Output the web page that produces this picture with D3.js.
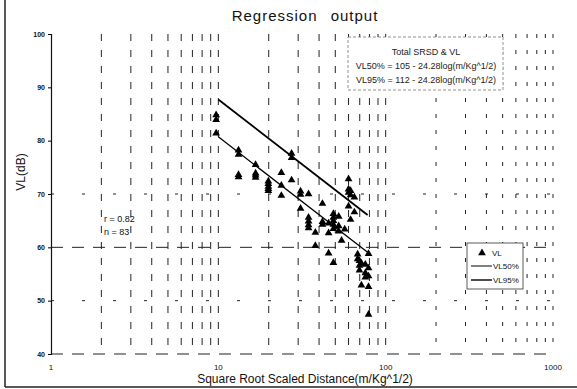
<!DOCTYPE html>
<html>
<head>
<meta charset="utf-8">
<script src="https://cdn.jsdelivr.net/npm/d3@7"></script>
<style>
  body { margin: 0; background: #fff; }
  svg { font-family: 'Liberation Sans', Arial, sans-serif; }
</style>
</head>
<body>
<svg id="chart" width="577" height="389"></svg>
<script>
// distance (m/Kg^1/2) and VL (dB)
const distances = [
  9.7, 9.7, 9.7,
  13.2, 13.2, 13.2, 13.2,
  16.7, 16.7, 16.7, 16.7,
  19.9, 19.9, 19.9, 19.9, 19.9,
  23.8, 23.8, 23.8,
  27.4, 27.4, 27.4,
  31, 31, 31,
  34.6, 34.6, 34.6, 34.6, 34.6,
  38, 38,
  41.9, 41.9, 41.9,
  45.6, 45.6, 45.6,
  48.7, 48.7, 48.7, 48.7, 48.7, 48.7,
  52.4, 52.4, 52.4,
  54.5, 56.9,
  60, 60, 60, 60,
  61.7, 61.7, 61.7,
  65, 65,
  68, 68,
  69.7, 69.7, 69.7,
  71.6, 71.6,
  75.6, 75.6, 75.6,
  79, 79, 79, 79, 79
];
const vlValues = [
  84.8, 83.9, 81.4,
  78.2, 77.4, 73.6, 73.2,
  75.5, 73.9, 73.5, 73.1,
  72.4, 71.9, 71.4, 71.0, 70.6,
  74.0, 71.6, 69.7,
  77.6, 76.8, 72.6,
  70.5, 69.9, 67.3,
  70.0, 65.6, 64.9, 64.2, 63.6,
  62.8, 60.3,
  68.2, 64.8, 64.3,
  64.5, 62.7, 58.9,
  66.3, 65.6, 65.0, 64.3, 63.5, 57.1,
  65.8, 64.0, 63.0,
  61.3, 63.4,
  72.8, 70.9, 70.3, 67.7,
  70.6, 69.8, 65.2,
  69.4, 66.6,
  58.7, 57.8,
  57.5, 56.6, 55.7,
  57.0, 52.9,
  56.8, 55.2, 54.4,
  58.8, 56.1, 54.6, 52.6, 47.4
];

// regression lines: VL = a - b*log10(d)
const fitNames = ['VL50%', 'VL95%'];
const fitIntercepts = [105, 112];
const fitSlope = 24.28;
const fitRange = [10, 78];

const xTicks = [1, 10, 100, 1000];
const yTicks = [40, 50, 60, 70, 80, 90, 100];

const boxLines = [
  'Total SRSD & VL',
  'VL50% = 105 - 24.28log(m/Kg^1/2)',
  'VL95% = 112 - 24.28log(m/Kg^1/2)'
];
const statLines = ['r = 0.82', 'n =  83'];

const svg = d3.select('#chart');
const margin = { left: 51, right: 553, top: 34, bottom: 354 };

const x = d3.scaleLog().domain([1, 1000]).range([margin.left, margin.right]);
const y = d3.scaleLinear().domain([40, 100]).range([margin.bottom, margin.top]);

// outer frame (only left and bottom survive on the scan)
svg.append('line').attr('x1', 5).attr('x2', 5).attr('y1', 0).attr('y2', 387)
  .attr('stroke', '#222').attr('stroke-width', 1.5);
svg.append('line').attr('x1', 5).attr('x2', 577).attr('y1', 387).attr('y2', 387)
  .attr('stroke', '#222').attr('stroke-width', 1.5);

// vertical dashed grid at every log tick
const gridX = d3.range(2, 10).concat(d3.range(20, 100, 10), d3.range(200, 1001, 100), [10, 100]);
svg.append('g')
  .selectAll('line')
  .data(gridX)
  .join('line')
  .attr('x1', d => x(d)).attr('x2', d => x(d))
  .attr('y1', margin.top).attr('y2', margin.bottom)
  .attr('stroke', '#222')
  .attr('stroke-width', 1)
  .attr('stroke-dasharray', d => d > 100 ? '4,12' : '7,9');

// horizontal grid: 40 and 60 clear, the rest barely visible
svg.append('g')
  .selectAll('line')
  .data([40, 50, 60, 70])
  .join('line')
  .attr('x1', margin.left).attr('x2', margin.right)
  .attr('y1', d => y(d)).attr('y2', d => y(d))
  .attr('stroke', '#222')
  .attr('stroke-width', 1)
  .attr('stroke-dasharray', d => (d === 60 || d === 40) ? '12,9' : '3,28');

// y axis
const yAxis = svg.append('g')
  .attr('transform', `translate(${margin.left},0)`)
  .call(d3.axisLeft(y).tickValues(yTicks).tickSize(3).tickFormat(d3.format('d')));
yAxis.select('.domain').attr('stroke', '#111').attr('stroke-width', 1.2);
yAxis.selectAll('text').attr('font-size', 7).attr('font-weight', 'bold').attr('fill', '#111');

// x tick labels
svg.append('g')
  .selectAll('text')
  .data(xTicks)
  .join('text')
  .attr('x', d => x(d))
  .attr('y', 370)
  .attr('text-anchor', 'middle')
  .attr('font-size', 8)
  .attr('fill', '#111')
  .text(d => d);

// titles
svg.append('text')
  .attr('x', 305).attr('y', 21)
  .attr('text-anchor', 'middle')
  .attr('font-size', 15)
  .attr('letter-spacing', 1)
  .attr('word-spacing', 8)
  .attr('fill', '#111')
  .text('Regression output');

svg.append('text')
  .attr('x', 305).attr('y', 383)
  .attr('text-anchor', 'middle')
  .attr('font-size', 12)
  .attr('fill', '#111')
  .text('Square Root Scaled Distance(m/Kg^1/2)');

svg.append('text')
  .attr('transform', 'translate(25,172) rotate(-90)')
  .attr('text-anchor', 'middle')
  .attr('font-size', 12)
  .attr('fill', '#111')
  .text('VL(dB)');

// regression lines
const line = d3.line()
  .x(d => x(d[0]))
  .y(d => y(d[1]));

fitIntercepts.forEach((a, i) => {
  const pts = fitRange.map(d => [d, a - fitSlope * Math.log10(d)]);
  svg.append('path')
    .datum(pts)
    .attr('fill', 'none')
    .attr('stroke', '#000')
    .attr('stroke-width', i === 0 ? 1.3 : 1.8)
    .attr('d', line);
});

// data points
const tri = d3.symbol().type(d3.symbolTriangle).size(26);
svg.append('g')
  .selectAll('path')
  .data(distances.map((d, i) => [d, vlValues[i]]))
  .join('path')
  .attr('transform', d => `translate(${x(d[0])},${y(d[1])})`)
  .attr('d', tri)
  .attr('fill', '#000');

// equation box
const box = svg.append('g');
box.append('rect')
  .attr('x', 348).attr('y', 37).attr('width', 155).attr('height', 53)
  .attr('fill', '#fff')
  .attr('stroke', '#777')
  .attr('stroke-width', 0.8)
  .attr('stroke-dasharray', '3,2');
box.selectAll('text')
  .data(boxLines)
  .join('text')
  .attr('x', 426)
  .attr('y', (d, i) => 55 + i * 14)
  .attr('text-anchor', 'middle')
  .attr('font-size', 9)
  .attr('fill', '#222')
  .text(d => d);

// r and n
svg.append('g')
  .selectAll('text')
  .data(statLines)
  .join('text')
  .attr('x', 104)
  .attr('y', (d, i) => 222 + i * 13)
  .attr('font-size', 9)
  .attr('fill', '#111')
  .text(d => d);

// legend
const lg = svg.append('g');
lg.append('rect')
  .attr('x', 467).attr('y', 243).attr('width', 56).attr('height', 46)
  .attr('fill', '#fff')
  .attr('stroke', '#333')
  .attr('stroke-width', 0.8);
lg.append('path')
  .attr('transform', 'translate(482,253)')
  .attr('d', tri)
  .attr('fill', '#000');
lg.append('text').attr('x', 492).attr('y', 256).attr('font-size', 8).attr('fill', '#111').text('VL');
fitNames.forEach((name, i) => {
  const yy = 266 + i * 14;
  lg.append('line')
    .attr('x1', 471).attr('x2', 492).attr('y1', yy).attr('y2', yy)
    .attr('stroke', '#000').attr('stroke-width', i === 0 ? 1 : 1.4);
  lg.append('text').attr('x', 493).attr('y', yy + 3).attr('font-size', 8).attr('fill', '#111').text(name);
});
</script>
</body>
</html>
